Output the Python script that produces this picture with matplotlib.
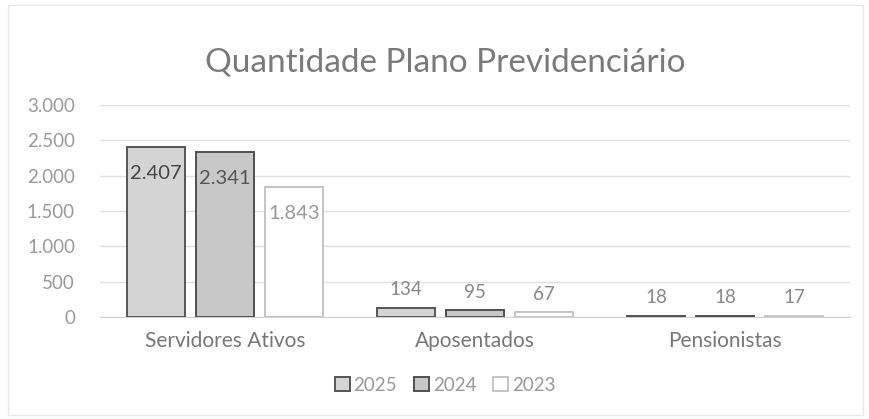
import numpy as np
import matplotlib.pyplot as plt
from matplotlib.ticker import FuncFormatter

plt.rcParams['font.family'] = ['Lato', 'DejaVu Sans']

# Data
categories = ['Servidores Ativos', 'Aposentados', 'Pensionistas']
years = ['2025', '2024', '2023']
values = {
    '2025': [2407, 134, 18],
    '2024': [2341, 95, 18],
    '2023': [1843, 67, 17],
}
yticks = [0, 500, 1000, 1500, 2000, 2500, 3000]

fill_colors = {'2025': '#d4d4d4', '2024': '#c8c8c8', '2023': '#ffffff'}
edge_colors = {'2025': '#555555', '2024': '#505050', '2023': '#c4c4c4'}
label_colors = {'2025': '#444444', '2024': '#555555', '2023': '#999999'}

def fmt(v, pos=None):
    return f'{int(v):,}'.replace(',', '.')

fig = plt.figure(figsize=(8.69, 4.19), dpi=100)
ax = fig.add_axes([100 / 869, 1 - 317 / 419, 750 / 869, 212 / 419])

x = np.arange(len(categories))
width = 0.232
step = 0.276

for i, yr in enumerate(years):
    pos = x + (i - 1) * step
    ax.bar(pos, values[yr], width, color=fill_colors[yr], edgecolor=edge_colors[yr],
           linewidth=1.4, label=yr, zorder=3)
    for px, v in zip(pos, values[yr]):
        if v > 1000:
            ax.annotate(fmt(v), (px, v), xytext=(0, -13), textcoords='offset points',
                        ha='center', va='top', fontsize=14.5, color=label_colors[yr], zorder=4)
        else:
            ax.annotate(fmt(v), (px, v), xytext=(0, 7), textcoords='offset points',
                        ha='center', va='bottom', fontsize=13.5, color='#888888', zorder=4)

ax.set_xlim(-0.5, 2.5)
ax.set_ylim(0, 3000)
ax.set_yticks(yticks)
ax.yaxis.set_major_formatter(FuncFormatter(fmt))
ax.set_xticks(x)
ax.set_xticklabels(categories, fontsize=15, color='#777777')
ax.tick_params(axis='y', labelsize=13.5, labelcolor='#999999', length=0, pad=18)
ax.tick_params(axis='x', length=0, pad=10)
ax.grid(axis='y', color='#e0e0e0', linewidth=1, zorder=0)
for s in ['top', 'right', 'left']:
    ax.spines[s].set_visible(False)
ax.spines['bottom'].set_color('#d0d0d0')

fig.text(445 / 869, 1 - 62 / 419, 'Quantidade Plano Previdenciário', ha='center', va='center',
         fontsize=24, color='#7a7a7a')

leg = fig.legend(loc='center', bbox_to_anchor=(445 / 869, 1 - 385 / 419), ncol=3, frameon=False,
                 fontsize=13.5, handlelength=0.8, handleheight=0.8, handletextpad=0.2,
                 columnspacing=0.9)
for t in leg.get_texts():
    t.set_color('#999999')

fig.patches.append(plt.Rectangle((8 / 869, 4 / 419), 855 / 869, 410 / 419, transform=fig.transFigure,
                                 fill=False, edgecolor='#e8e8e8', linewidth=1))

fig.savefig('out.png', dpi=100)
